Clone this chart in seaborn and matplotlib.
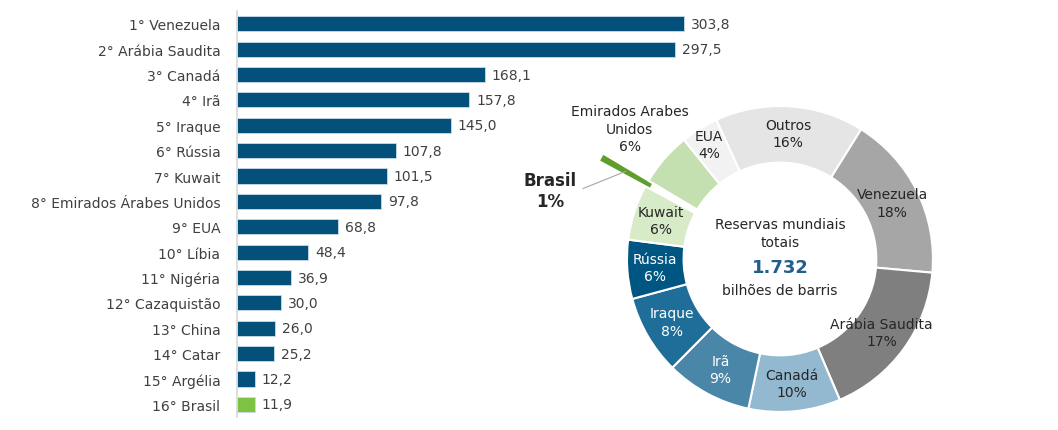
import numpy as np
import matplotlib
matplotlib.use('Agg')
import matplotlib.pyplot as plt
import seaborn as sns

# ranking (bilhões de barris)
rank_labels = ['1° Venezuela', '2° Arábia Saudita', '3° Canadá', '4° Irã', '5° Iraque', '6° Rússia',
               '7° Kuwait', '8° Emirados Árabes Unidos', '9° EUA', '10° Líbia', '11° Nigéria',
               '12° Cazaquistão', '13° China', '14° Catar', '15° Argélia', '16° Brasil']
rank_values = [303.8, 297.5, 168.1, 157.8, 145.0, 107.8, 101.5, 97.8, 68.8, 48.4, 36.9, 30.0, 26.0, 25.2, 12.2, 11.9]

# participação nas reservas mundiais (sentido horário)
pie_names = ['Venezuela', 'Arábia Saudita', 'Canadá', 'Irã', 'Iraque', 'Rússia', 'Kuwait',
             'Brasil', 'Emirados Arabes\nUnidos', 'EUA', 'Outros']
pie_values = [303.8, 297.5, 168.1, 157.8, 145.0, 107.8, 101.5, 11.9, 97.8, 68.8, 272.0]
total = 1732

sns.set_theme(style='white')
plt.rcParams['font.family'] = ['DejaVu Sans Condensed', 'DejaVu Sans']

txt = '#404040'
blue = '#03507a'
green = '#7dc242'

fig = plt.figure(figsize=(10.58, 4.31), dpi=100)

# --- barras ---
ax = fig.add_axes([0.224, 0.030, 0.44, 0.942])
bar_colors = [blue] * (len(rank_labels) - 1) + [green]
sns.barplot(x=rank_values, y=rank_labels, hue=rank_labels, palette=bar_colors, legend=False,
            orient='h', width=0.6, saturation=1, edgecolor='#c9dcea', linewidth=0.6, ax=ax)
for i, v in enumerate(rank_values):
    ax.text(v + 4.5, i, f'{v:.1f}'.replace('.', ','), va='center', ha='left', fontsize=10, color=txt)
ax.set_xlim(0, 303.8 * 465 / 447)
ax.set_ylim(15.5, -0.5)
ax.set_xticks([])
ax.set_xlabel('')
ax.set_ylabel('')
ax.tick_params(axis='y', length=0, pad=12, labelsize=10, labelcolor=txt)
for s in ['top', 'right', 'bottom']:
    ax.spines[s].set_visible(False)
ax.spines['left'].set_color('#d9d9d9')

# --- rosca ---
pax = fig.add_axes([0.5926, 0.0418, 0.2892, 0.710])
pie_colors = ['#a6a6a6', '#7f7f7f', '#93b9d0', '#4a86a8', '#1f6e9a', '#005682',
              '#d8ebc9', '#5e9e2c', '#c5e0b0', '#f2f2f2', '#e5e5e5']
explode = [0.34 if n == 'Brasil' else 0 for n in pie_names]
wedges, _ = pax.pie(pie_values, colors=pie_colors, startangle=58, counterclock=False,
                    explode=explode, radius=1.0,
                    wedgeprops=dict(width=0.37, edgecolor='white', linewidth=1.5))
for w in wedges:
    w.set_clip_on(False)
wedges[pie_names.index('Brasil')].set_edgecolor('none')

white_lbl = {'Irã', 'Iraque', 'Rússia'}
for w, name, v in zip(wedges, pie_names, pie_values):
    ang = np.deg2rad((w.theta1 + w.theta2) / 2)
    pct = f'{v / total * 100:.0f}%'
    if name == 'Brasil':
        r = 1.16
        pax.annotate('Brasil\n1%', xy=(r * np.cos(ang), r * np.sin(ang)), xytext=(-1.5, 0.45),
                     ha='center', va='center', fontsize=12, fontweight='bold', color='#262626',
                     linespacing=1.2, annotation_clip=False,
                     arrowprops=dict(arrowstyle='-', color='#a6a6a6', lw=0.8, shrinkA=2, shrinkB=0,
                                     connectionstyle='angle,angleA=0,angleB=22,rad=0'))
        continue
    r = 0.82
    if name == 'EUA':
        r = 0.88
    if name.startswith('Emirados'):
        r = 1.3
    col = 'white' if name in white_lbl else '#262626'
    pax.text(r * np.cos(ang), r * np.sin(ang), f'{name}\n{pct}', ha='center', va='center',
             fontsize=10, color=col, linespacing=1.3)

pax.text(0, 0.17, 'Reservas mundiais\ntotais', ha='center', va='center', fontsize=10,
         color='#262626', linespacing=1.3)
pax.text(0, -0.05, f'{total:,}'.replace(',', '.'), ha='center', va='center', fontsize=13,
         fontweight='bold', color='#1f5f8b')
pax.text(0, -0.205, 'bilhões de barris', ha='center', va='center', fontsize=10, color='#262626')
pax.set_xlim(-1, 1)
pax.set_ylim(-1, 1)
pax.set_aspect('equal')
pax.axis('off')

fig.savefig('out.png', dpi=100)
